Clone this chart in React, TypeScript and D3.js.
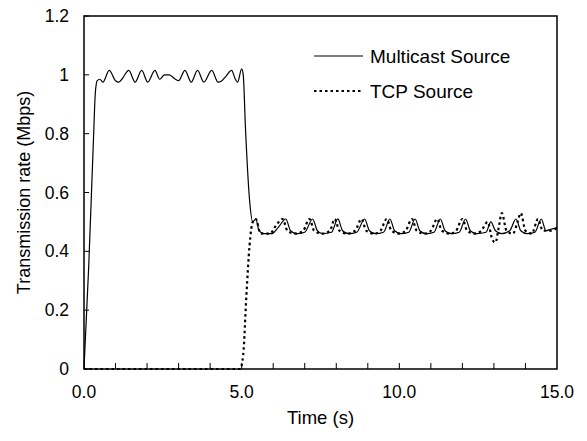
import React from "react";
import * as d3 from "d3";

const multicastTime = [0, 0.15, 0.3, 0.36, 0.42, 0.5, 0.6, 0.8, 1.0, 1.1, 1.2, 1.42, 1.62, 1.83, 2.02, 2.25, 2.4, 2.55, 2.7, 2.9, 3.0, 3.2, 3.4, 3.6, 3.8, 4.05, 4.25, 4.35, 4.5, 4.68, 4.8, 4.87, 5.0, 5.05, 5.12, 5.25, 5.35, 5.45, 5.55, 5.7, 5.95, 6.15, 6.4, 6.55, 6.75, 7.0, 7.25, 7.4, 7.55, 7.85, 8.05, 8.2, 8.4, 8.65, 8.9, 9.05, 9.25, 9.5, 9.7, 9.85, 10.05, 10.3, 10.5, 10.65, 10.85, 11.1, 11.3, 11.45, 11.65, 11.9, 12.1, 12.25, 12.45, 12.75, 12.9, 13.05, 13.25, 13.5, 13.7, 13.85, 14.05, 14.3, 14.5, 14.65, 14.8, 15.0];
const multicastRate = [0, 0.35, 0.78, 0.94, 0.98, 0.985, 0.975, 1.015, 0.98, 0.975, 0.985, 1.015, 0.975, 1.015, 0.975, 1.015, 0.985, 1.0, 1.0, 0.985, 0.98, 1.015, 0.975, 1.015, 0.975, 1.015, 0.975, 0.978, 0.995, 1.015, 0.985, 0.975, 1.02, 1.0, 0.82, 0.575, 0.5, 0.51, 0.47, 0.46, 0.46, 0.48, 0.51, 0.47, 0.46, 0.465, 0.51, 0.47, 0.46, 0.465, 0.51, 0.47, 0.46, 0.465, 0.51, 0.47, 0.46, 0.465, 0.51, 0.47, 0.46, 0.465, 0.51, 0.47, 0.46, 0.465, 0.51, 0.47, 0.46, 0.465, 0.51, 0.47, 0.46, 0.465, 0.5, 0.47, 0.46, 0.47, 0.51, 0.47, 0.46, 0.465, 0.51, 0.47, 0.475, 0.48];

const tcpTime = [0, 4.95, 5.05, 5.15, 5.25, 5.35, 5.45, 5.6, 5.9, 6.1, 6.3, 6.45, 6.7, 6.95, 7.15, 7.3, 7.55, 7.8, 7.95, 8.1, 8.35, 8.6, 8.8, 8.95, 9.2, 9.4, 9.6, 9.75, 10.0, 10.2, 10.4, 10.55, 10.8, 11.0, 11.2, 11.35, 11.6, 11.8, 12.0, 12.15, 12.4, 12.6, 12.8, 12.95, 13.05, 13.15, 13.25, 13.4, 13.6, 13.75, 13.85, 14.0, 14.2, 14.4, 14.55, 14.8, 15.0];
const tcpRate = [0, 0, 0.05, 0.25, 0.42, 0.5, 0.51, 0.46, 0.46, 0.49, 0.51, 0.47, 0.46, 0.47, 0.51, 0.47, 0.46, 0.47, 0.51, 0.47, 0.46, 0.47, 0.51, 0.47, 0.46, 0.47, 0.51, 0.47, 0.46, 0.47, 0.51, 0.47, 0.46, 0.47, 0.51, 0.47, 0.46, 0.47, 0.51, 0.47, 0.46, 0.47, 0.5, 0.44, 0.43, 0.48, 0.53, 0.47, 0.46, 0.5, 0.53, 0.47, 0.46, 0.51, 0.47, 0.47, 0.48];

const yTicks = [0, 0.2, 0.4, 0.6, 0.8, 1.0, 1.2];
const yTickLabels = ["0", "0.2", "0.4", "0.6", "0.8", "1", "1.2"];
const xMinorTicks = [1, 2, 3, 4, 5, 6, 7, 8, 9, 10, 11, 12, 13, 14];
const xLabelTicks = [0, 5, 10, 15];
const xTickLabels = ["0.0", "5.0", "10.0", "15.0"];
const seriesNames = ["Multicast Source", "TCP Source"];

const W = 587, H = 441;
const M = { left: 84, right: 557, top: 16, bottom: 369 };
const FONT = "'Liberation Sans', Arial, sans-serif";

export default function App() {
  const x = d3.scaleLinear().domain([0, 15]).range([M.left, M.right]);
  const y = d3.scaleLinear().domain([0, 1.2]).range([M.bottom, M.top]);
  const line = d3.line<[number, number]>().x(d => x(d[0])).y(d => y(d[1])).curve(d3.curveMonotoneX);
  const mData = multicastTime.map((t, i) => [t, multicastRate[i]] as [number, number]);
  const tData = tcpTime.map((t, i) => [t, tcpRate[i]] as [number, number]);

  return (
    <svg width={W} height={H} style={{ position: "absolute", left: 0, top: 0 }} fontFamily={FONT}>
      <rect x={0} y={0} width={W} height={H} fill="#fff" />
      <rect x={M.left} y={M.top} width={M.right - M.left} height={M.bottom - M.top} fill="none" stroke="#000" strokeWidth={1.5} />
      {yTicks.map((v, i) => (
        <g key={"y" + i}>
          <line x1={M.left} x2={M.left + 5} y1={y(v)} y2={y(v)} stroke="#000" strokeWidth={1} />
          <text x={69} y={y(v)} dy="0.35em" textAnchor="end" fontSize={17.5}>{yTickLabels[i]}</text>
        </g>
      ))}
      {xMinorTicks.map(v => (
        <line key={"xm" + v} x1={x(v)} x2={x(v)} y1={M.bottom} y2={M.bottom - 6} stroke="#000" strokeWidth={1} />
      ))}
      {xLabelTicks.map((v, i) => (
        <text key={"xl" + v} x={x(v)} y={398} textAnchor="middle" fontSize={17.5}>{xTickLabels[i]}</text>
      ))}
      <text x={x(7.5)} y={424} textAnchor="middle" fontSize={18.5}>Time (s)</text>
      <text transform={`translate(30,${(M.top + M.bottom) / 2}) rotate(-90)`} textAnchor="middle" fontSize={18}>Transmission rate (Mbps)</text>

      <path d={line(tData) || ""} fill="none" stroke="#000" strokeWidth={2.2} strokeDasharray="2.5,3" />
      <path d={line(mData) || ""} fill="none" stroke="#000" strokeWidth={1.2} />

      <line x1={314} x2={363} y1={56} y2={56} stroke="#000" strokeWidth={1.2} />
      <text x={370} y={56} dy="0.35em" fontSize={19}>{seriesNames[0]}</text>
      <line x1={314} x2={363} y1={91} y2={91} stroke="#000" strokeWidth={2.2} strokeDasharray="2.5,3" />
      <text x={370} y={91} dy="0.35em" fontSize={19}>{seriesNames[1]}</text>
    </svg>
  );
}
